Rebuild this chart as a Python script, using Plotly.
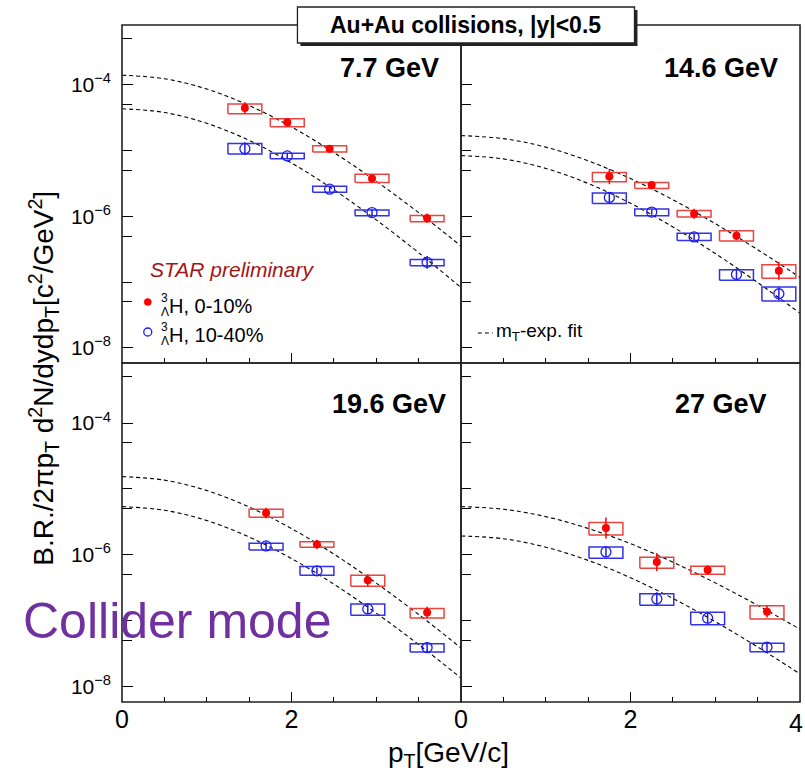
import plotly.graph_objects as go

# ---------------- data ----------------
fit_pt = [0.0, 0.5, 1.0, 1.5, 2.0, 2.5, 3.0, 3.5, 4.0]

# 7.7 GeV
pt_77 = [1.45, 1.95, 2.45, 2.95, 3.60]
c010_77 = [4.44e-5, 2.69e-5, 1.07e-5, 3.77e-6, 9.4e-7]
c010_77_lo = [3.63e-5, 2.31e-5, 9.55e-6, 3.27e-6, 8.3e-7]
c010_77_hi = [5.13e-5, 3.05e-5, 1.19e-5, 4.37e-6, 1.03e-6]
c010_77_stat = [0.086, 0.025, 0.025, 0.03, 0.07]
c1040_77 = [1.07e-5, 8.3e-6, 2.59e-6, 1.14e-6, 2.0e-7]
c1040_77_lo = [8.9e-6, 7.5e-6, 2.33e-6, 1.02e-6, 1.77e-7]
c1040_77_hi = [1.28e-5, 9.1e-6, 2.88e-6, 1.25e-6, 2.2e-7]
c1040_77_stat = [0.096, 0.04, 0.04, 0.05, 0.096]
fit010_77 = [1.40e-4, 1.24e-4, 8.63e-5, 4.86e-5, 2.29e-5, 9.35e-6, 3.41e-6, 1.14e-6, 3.54e-7]
fit1040_77 = [4.33e-5, 3.80e-5, 2.60e-5, 1.43e-5, 6.49e-6, 2.54e-6, 8.83e-7, 2.80e-7, 8.26e-8]

# 14.6 GeV
pt_146 = [1.75, 2.25, 2.75, 3.25, 3.75]
c010_146 = [4.04e-6, 2.99e-6, 1.10e-6, 5.09e-7, 1.49e-7]
c010_146_lo = [3.36e-6, 2.65e-6, 9.8e-7, 4.23e-7, 1.15e-7]
c010_146_hi = [4.65e-6, 3.27e-6, 1.23e-6, 6.03e-7, 1.83e-7]
c010_146_stat = [0.116, 0.05, 0.076, 0.07, 0.136]
c1040_146 = [1.94e-6, 1.16e-6, 4.86e-7, 1.31e-7, 6.65e-8]
c1040_146_lo = [1.57e-6, 1.02e-6, 4.29e-7, 1.07e-7, 5.15e-8]
c1040_146_hi = [2.26e-6, 1.29e-6, 5.52e-7, 1.54e-7, 8.4e-8]
c1040_146_stat = [0.076, 0.04, 0.05, 0.08, 0.10]
fit010_146 = [1.69e-5, 1.52e-5, 1.13e-5, 7.00e-6, 3.75e-6, 1.79e-6, 7.73e-7, 3.11e-7, 1.18e-7]
fit1040_146 = [8.39e-6, 7.48e-6, 5.36e-6, 3.16e-6, 1.58e-6, 6.90e-7, 2.72e-7, 9.86e-8, 3.37e-8]

# 19.6 GeV
pt_196 = [1.70, 2.30, 2.90, 3.60]
c010_196 = [4.33e-6, 1.45e-6, 4.13e-7, 1.34e-7]
c010_196_lo = [3.72e-6, 1.31e-6, 3.35e-7, 1.11e-7]
c010_196_hi = [4.92e-6, 1.59e-6, 4.92e-7, 1.54e-7]
c010_196_stat = [0.08, 0.07, 0.086, 0.086]
c1040_196 = [1.37e-6, 5.73e-7, 1.52e-7, 3.94e-8]
c1040_196_lo = [1.19e-6, 4.92e-7, 1.22e-7, 3.36e-8]
c1040_196_hi = [1.50e-6, 6.65e-7, 1.81e-7, 4.49e-8]
c1040_196_stat = [0.066, 0.05, 0.076, 0.076]
fit010_196 = [1.54e-5, 1.36e-5, 9.46e-6, 5.33e-6, 2.51e-6, 1.03e-6, 3.74e-7, 1.25e-7, 3.88e-8]
fit1040_196 = [5.40e-6, 4.76e-6, 3.32e-6, 1.87e-6, 8.81e-7, 3.60e-7, 1.31e-7, 4.38e-8, 1.36e-8]

# 27 GeV
pt_27 = [1.71, 2.31, 2.91, 3.61]
c010_27 = [2.56e-6, 7.83e-7, 5.93e-7, 1.38e-7]
c010_27_lo = [2.0e-6, 6.28e-7, 5.09e-7, 1.07e-7]
c010_27_hi = [3.09e-6, 9.23e-7, 6.73e-7, 1.69e-7]
c010_27_stat = [0.16, 0.136, 0.07, 0.09]
c1040_27 = [1.11e-6, 2.15e-7, 1.10e-7, 3.99e-8]
c1040_27_lo = [8.9e-7, 1.73e-7, 8.7e-8, 3.39e-8]
c1040_27_hi = [1.32e-6, 2.57e-7, 1.35e-7, 4.59e-8]
c1040_27_stat = [0.07, 0.10, 0.08, 0.076]
fit010_27 = [5.40e-6, 4.93e-6, 3.81e-6, 2.52e-6, 1.48e-6, 7.76e-7, 3.77e-7, 1.72e-7, 7.46e-8]
fit1040_27 = [1.94e-6, 1.76e-6, 1.31e-6, 8.26e-7, 4.51e-7, 2.19e-7, 9.73e-8, 4.02e-8, 1.57e-8]

energy_labels = ["7.7 GeV", "14.6 GeV", "19.6 GeV", "27 GeV"]
y_tick_vals = [1e-8, 1e-6, 1e-4]
y_tick_text = ["10<sup>\u22128</sup>", "10<sup>\u22126</sup>", "10<sup>\u22124</sup>"]
y_minor_vals = [5e-8, 1e-7, 5e-7, 5e-6, 1e-5, 5e-5, 5e-4]

# ---------------- styling ----------------
W, H = 805, 773
FONT = "Liberation Sans, Arial, Helvetica, sans-serif"
RED = "#ff0000"
RED_BOX = "#e8453f"
BLUE = "#1c1cf0"
BLUE_BOX = "#3232e6"
BOX_HALF = 0.2

def px(x):
    return x / W

def py(y):
    return 1 - y / H

panels = [
    dict(pt=pt_77, a=c010_77, alo=c010_77_lo, ahi=c010_77_hi, ast=c010_77_stat,
         b=c1040_77, blo=c1040_77_lo, bhi=c1040_77_hi, bst=c1040_77_stat,
         fa=fit010_77, fb=fit1040_77),
    dict(pt=pt_146, a=c010_146, alo=c010_146_lo, ahi=c010_146_hi, ast=c010_146_stat,
         b=c1040_146, blo=c1040_146_lo, bhi=c1040_146_hi, bst=c1040_146_stat,
         fa=fit010_146, fb=fit1040_146),
    dict(pt=pt_196, a=c010_196, alo=c010_196_lo, ahi=c010_196_hi, ast=c010_196_stat,
         b=c1040_196, blo=c1040_196_lo, bhi=c1040_196_hi, bst=c1040_196_stat,
         fa=fit010_196, fb=fit1040_196),
    dict(pt=pt_27, a=c010_27, alo=c010_27_lo, ahi=c010_27_hi, ast=c010_27_stat,
         b=c1040_27, blo=c1040_27_lo, bhi=c1040_27_hi, bst=c1040_27_stat,
         fa=fit010_27, fb=fit1040_27),
]

XL = [px(116), px(458)]
XR = [px(458), px(800)]
YT = [py(363), py(25)]
YB = [py(702), py(363)]
domains = [(XL, YT), (XR, YT), (XL, YB), (XR, YB)]

fig = go.Figure()

def box_path(pt, lo, hi):
    xs, ys = [], []
    for p, l, h in zip(pt, lo, hi):
        xs += [p - BOX_HALF, p + BOX_HALF, p + BOX_HALF, p - BOX_HALF, p - BOX_HALF, None]
        ys += [l, l, h, h, l, None]
    return xs, ys

for i, pn in enumerate(panels):
    n = i + 1
    xa = "x" if n == 1 else f"x{n}"
    ya = "y" if n == 1 else f"y{n}"
    for f in (pn["fa"], pn["fb"]):
        fig.add_trace(go.Scatter(x=fit_pt, y=f, mode="lines", xaxis=xa, yaxis=ya,
                                 line=dict(color="black", width=1.1, dash="4px,3px", shape="spline"),
                                 showlegend=False, hoverinfo="skip"))
    for lo, hi, col in ((pn["alo"], pn["ahi"], RED_BOX), (pn["blo"], pn["bhi"], BLUE_BOX)):
        bx, by = box_path(pn["pt"], lo, hi)
        fig.add_trace(go.Scatter(x=bx, y=by, mode="lines", xaxis=xa, yaxis=ya,
                                 line=dict(color=col, width=1.5), showlegend=False,
                                 hoverinfo="skip", connectgaps=False))
    for vals, st, col, sym, size, lw in ((pn["b"], pn["bst"], BLUE, "circle-open", 10, 1.3),
                                         (pn["a"], pn["ast"], RED, "circle", 8, 0)):
        up = [v * (10 ** d - 1) for v, d in zip(vals, st)]
        dn = [v * (1 - 10 ** (-d)) for v, d in zip(vals, st)]
        fig.add_trace(go.Scatter(x=pn["pt"], y=vals, mode="markers", xaxis=xa, yaxis=ya,
                                 marker=dict(symbol=sym, size=size, color=col,
                                             line=dict(width=lw, color=col)),
                                 error_y=dict(type="data", array=up, arrayminus=dn,
                                              width=0, thickness=1.5, color=col),
                                 showlegend=False))

axis_common = dict(showline=False, showgrid=False, zeroline=False, ticks="inside", tickcolor="black")
layout = dict(width=W, height=H, margin=dict(l=0, r=0, t=0, b=0),
              paper_bgcolor="white", plot_bgcolor="white", showlegend=False,
              font=dict(family=FONT, color="black"))
for i, (xd, yd) in enumerate(domains):
    n = i + 1
    xk = "xaxis" if n == 1 else f"xaxis{n}"
    yk = "yaxis" if n == 1 else f"yaxis{n}"
    ya = "y" if n == 1 else f"y{n}"
    xa = "x" if n == 1 else f"x{n}"
    bottom = n >= 3
    layout[xk] = dict(axis_common, domain=xd, anchor=ya, range=[0, 4],
                      tickvals=[0, 2], ticktext=["0", "2"], ticklen=10, tickwidth=1.3,
                      showticklabels=bottom, tickfont=dict(size=25, family=FONT),
                      minor=dict(tickvals=[0.5, 1, 1.5, 2.5, 3, 3.5], ticklen=5,
                                 ticks="inside", tickcolor="black", tickwidth=1.3))
    layout[yk] = dict(axis_common, domain=yd, anchor=xa, type="log", range=[-8.23, -3.09],
                      tickvals=y_tick_vals, ticktext=y_tick_text, ticklen=11, tickwidth=1.3,
                      showticklabels=(n in (1, 3)), tickfont=dict(size=21, family=FONT),
                      ticklabelstandoff=10,
                      minor=dict(tickvals=y_minor_vals, ticklen=10, ticks="inside",
                                 tickcolor="black", tickwidth=1.3))
fig.update_layout(**layout)

ann = []
label_pos = [(0.789, 0.873), (0.766, 0.873), (0.789, 0.879), (0.766, 0.879)]
for i, (lab, (ax, ay)) in enumerate(zip(energy_labels, label_pos)):
    n = i + 1
    xr = "x domain" if n == 1 else f"x{n} domain"
    yr = "y domain" if n == 1 else f"y{n} domain"
    ann.append(dict(text=f"<b>{lab}</b>", xref=xr, yref=yr, x=ax, y=ay, showarrow=False,
                    xanchor="center", yanchor="middle", font=dict(size=27, family=FONT)))

# the "4" tick label at the right end of the lower-right axis, kept inside the page edge
ann.append(dict(text="4", xref="paper", yref="paper", x=1.0, y=py(723), showarrow=False,
                xanchor="right", yanchor="middle", font=dict(size=25, family=FONT)))

ann.append(dict(text="<b>Au+Au collisions, |y|&lt;0.5</b>", xref="paper", yref="paper",
                x=px(463), y=py(25), showarrow=False, xanchor="center", yanchor="middle",
                font=dict(size=23, family=FONT)))
ann.append(dict(text="<i>STAR preliminary</i>", xref="paper", yref="paper", x=px(142), y=py(269),
                showarrow=False, xanchor="left", yanchor="middle",
                font=dict(size=21, family=FONT, color="#a31515")))
for yy, lab in ((306, "H, 0-10%"), (335, "H, 10-40%")):
    ann.append(dict(text=lab, xref="paper", yref="paper", x=px(161), y=py(yy), showarrow=False,
                    xanchor="left", yanchor="middle", font=dict(size=20, family=FONT)))
    ann.append(dict(text="3", xref="paper", yref="paper", x=px(159), y=py(yy - 8), showarrow=False,
                    xanchor="center", yanchor="middle", font=dict(size=12, family=FONT)))
    ann.append(dict(text="\u039b", xref="paper", yref="paper", x=px(159), y=py(yy + 6), showarrow=False,
                    xanchor="center", yanchor="middle", font=dict(size=12, family=FONT)))
ann.append(dict(text="m<sub>T</sub>-exp. fit", xref="paper", yref="paper", x=px(491), y=py(332),
                showarrow=False, xanchor="left", yanchor="middle", font=dict(size=19, family=FONT)))
ann.append(dict(text="Collider mode", xref="paper", yref="paper", x=px(14), y=py(621),
                showarrow=False, xanchor="left", yanchor="middle",
                font=dict(size=50, family=FONT, color="#7030a0")))
ann.append(dict(text="p<sub>T</sub>[GeV/c]", xref="paper", yref="paper", x=px(445), y=py(754),
                showarrow=False, xanchor="center", yanchor="middle", font=dict(size=28, family=FONT)))
ann.append(dict(text="B.R./2\u03c0p<sub>T</sub> d<sup>2</sup>N/dydp<sub>T</sub>[c<sup>2</sup>/GeV<sup>2</sup>]",
                xref="paper", yref="paper", x=px(37), y=py(378), showarrow=False, textangle=-90,
                xanchor="center", yanchor="middle", font=dict(size=28, family=FONT)))
fig.update_layout(annotations=ann)

shapes = []
for i in range(4):
    n = i + 1
    xr = "x domain" if n == 1 else f"x{n} domain"
    yr = "y domain" if n == 1 else f"y{n} domain"
    shapes.append(dict(type="rect", xref=xr, yref=yr, x0=0, x1=1, y0=0, y1=1,
                       line=dict(color="#222222", width=1.6), layer="above"))
shapes += [
    dict(type="rect", xref="paper", yref="paper", x0=px(296), x1=px(636), y0=py(46), y1=py(10),
         fillcolor="#222222", line=dict(width=0), layer="above"),
    dict(type="rect", xref="paper", yref="paper", x0=px(293), x1=px(633), y0=py(43), y1=py(7),
         fillcolor="white", line=dict(color="#222222", width=1.3), layer="above"),
    dict(type="circle", xref="paper", yref="paper", xsizemode="pixel", ysizemode="pixel",
         xanchor=px(142), yanchor=py(302), x0=-3.6, x1=3.6, y0=-3.6, y1=3.6,
         fillcolor=RED, line=dict(color=RED, width=0.5), layer="above"),
    dict(type="circle", xref="paper", yref="paper", xsizemode="pixel", ysizemode="pixel",
         xanchor=px(142), yanchor=py(332), x0=-4, x1=4, y0=-4, y1=4,
         fillcolor="rgba(0,0,0,0)", line=dict(color=BLUE, width=1.3), layer="above"),
    dict(type="line", xref="paper", yref="paper", x0=px(475), x1=px(490), y0=py(333), y1=py(333),
         line=dict(color="black", width=1.1, dash="4px,3px"), layer="above"),
]
fig.update_layout(shapes=shapes)

fig.write_html("out.html")
